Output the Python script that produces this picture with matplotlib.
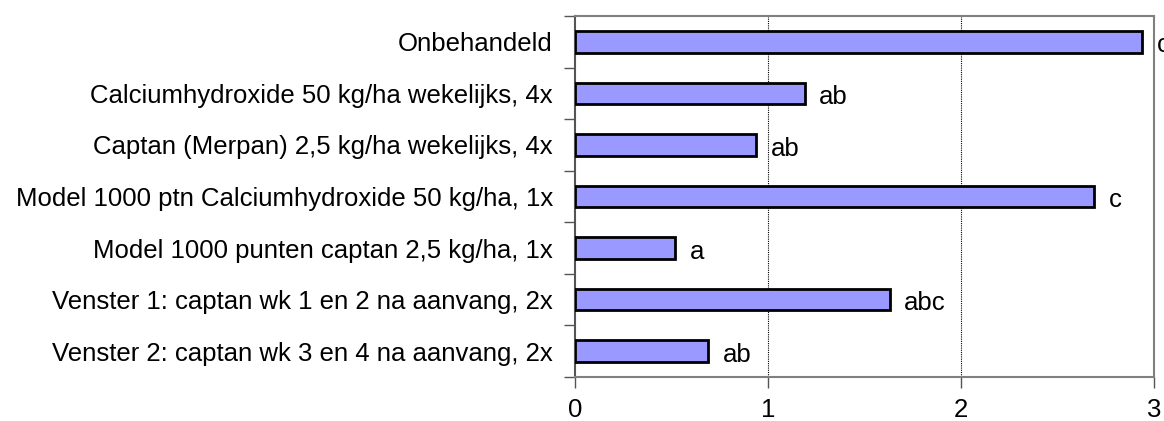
import matplotlib
matplotlib.use("Agg")
import matplotlib.pyplot as plt
import numpy as np

categories = [
    "Onbehandeld",
    "Calciumhydroxide 50 kg/ha wekelijks, 4x",
    "Captan (Merpan) 2,5 kg/ha wekelijks, 4x",
    "Model 1000 ptn Calciumhydroxide 50 kg/ha, 1x",
    "Model 1000 punten captan 2,5 kg/ha, 1x",
    "Venster 1: captan wk 1 en 2 na aanvang, 2x",
    "Venster 2: captan wk 3 en 4 na aanvang, 2x",
]
values = [2.94, 1.19, 0.94, 2.69, 0.52, 1.63, 0.69]
letters = ["c", "ab", "ab", "c", "a", "abc", "ab"]
xticks = [0, 1, 2, 3]

plt.rcParams['font.family'] = ['Liberation Sans', 'DejaVu Sans']
FS = 18.5

fig = plt.figure(figsize=(11.64, 4.21), dpi=100)
ax = fig.add_axes([575/1164, 1-377/421, (1154-575)/1164, (377-16)/421])

n = len(categories)
y = np.arange(n)[::-1]
ax.barh(y, values, height=0.42, color="#9999FF", edgecolor="black", linewidth=2, zorder=3)
for yi, v, l in zip(y, values, letters):
    ax.text(v + 0.075, yi - 0.07, l, va="center", ha="left", fontsize=FS, clip_on=False)

ax.set_xlim(0, 3)
ax.set_ylim(-0.5, n - 0.5)
ax.set_xticks(xticks)
ax.set_xticklabels([str(t) for t in xticks], fontsize=FS)
ax.set_yticks(y)
ax.set_yticklabels(categories, fontsize=FS)
ax.tick_params(axis="y", which="major", length=0, pad=16)
ax.set_yticks(np.arange(-0.5, n, 1), minor=True)
ax.tick_params(axis="y", which="minor", length=8, color="#555555", width=1)
ax.tick_params(axis="x", length=8, color="#555555", width=1, pad=7)

for gx in [1, 2]:
    ax.axvline(gx, color="black", linestyle=(0, (1, 1)), linewidth=0.8, zorder=1)

for side in ["top", "right", "bottom"]:
    ax.spines[side].set_color("#808080")
    ax.spines[side].set_linewidth(1.5)
ax.spines["left"].set_color("#555555")
ax.spines["left"].set_linewidth(1.5)

fig.savefig("out.png", dpi=100)
